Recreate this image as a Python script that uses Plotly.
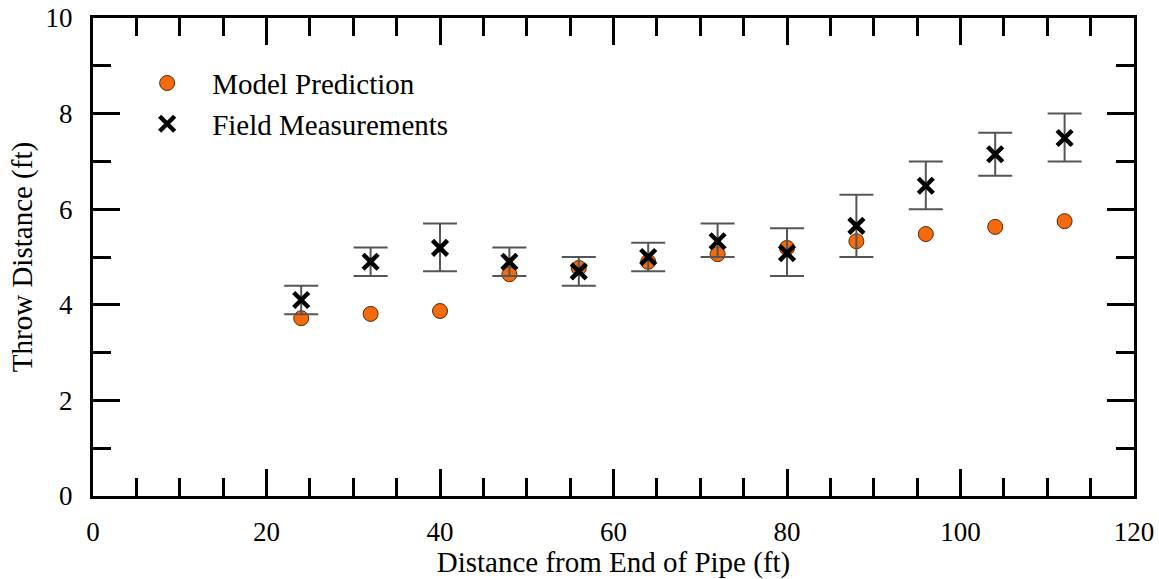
import plotly.graph_objects as go

x_vals = [24, 32, 40, 48, 56, 64, 72, 80, 88, 96, 104, 112]
model_pred = [3.72, 3.81, 3.87, 4.64, 4.77, 4.90, 5.06, 5.19, 5.33, 5.48, 5.63, 5.75]
field_meas = [4.10, 4.90, 5.19, 4.90, 4.70, 5.00, 5.33, 5.08, 5.65, 6.49, 7.15, 7.49]
field_upper = [4.4, 5.2, 5.7, 5.2, 5.0, 5.3, 5.7, 5.6, 6.3, 7.0, 7.6, 8.0]
field_lower = [3.8, 4.6, 4.7, 4.6, 4.4, 4.7, 5.0, 4.6, 5.0, 6.0, 6.7, 7.0]

err_plus = [u - m for u, m in zip(field_upper, field_meas)]
err_minus = [m - l for m, l in zip(field_meas, field_lower)]

FONT = "Liberation Serif, Times New Roman, serif"

fig = go.Figure()
fig.add_trace(go.Scatter(
    x=x_vals, y=model_pred, mode="markers", name="Model Prediction",
    marker=dict(symbol="circle", size=15, color="#f56a0c",
                line=dict(color="#5a2800", width=1)),
))
fig.add_trace(go.Scatter(
    x=x_vals, y=field_meas, mode="markers", name="Field Measurements",
    marker=dict(symbol="x-thin", size=15, color="black",
                line=dict(color="black", width=4.5)),
    error_y=dict(type="data", symmetric=False, array=err_plus, arrayminus=err_minus,
                 color="#555555", thickness=2, width=17),
))

axis_common = dict(
    showline=True, linecolor="black", linewidth=3, mirror="allticks",
    ticks="inside", ticklen=27, tickwidth=3, tickcolor="black",
    showgrid=False, zeroline=False, automargin=False,
    tickfont=dict(family=FONT, size=27, color="black"),
)

fig.update_xaxes(
    range=[0, 120], tickmode="linear", tick0=0, dtick=20,
    minor=dict(dtick=5, ticklen=18, tickwidth=3, tickcolor="black", ticks="inside", showgrid=False),
    title=dict(text="Distance from End of Pipe (ft)", font=dict(family=FONT, size=29, color="black"),
               standoff=7),
    ticklabelstandoff=10,
    **axis_common,
)
fig.update_yaxes(
    range=[0, 10], tickmode="linear", tick0=0, dtick=2,
    minor=dict(dtick=1, ticklen=18, tickwidth=3, tickcolor="black", ticks="inside", showgrid=False),
    title=dict(text="Throw Distance (ft)", font=dict(family=FONT, size=29, color="black"),
               standoff=5),
    ticklabelstandoff=12,
    **axis_common,
)

fig.update_layout(
    width=1159, height=579,
    margin=dict(l=93, r=25, t=18, b=83),
    paper_bgcolor="white", plot_bgcolor="white",
    showlegend=True,
    legend=dict(x=0.028, y=0.917, xanchor="left", yanchor="top",
                bgcolor="rgba(0,0,0,0)", borderwidth=0,
                font=dict(family=FONT, size=29, color="black"),
                itemwidth=80, tracegroupgap=0),
)

fig.write_html("out.html")
